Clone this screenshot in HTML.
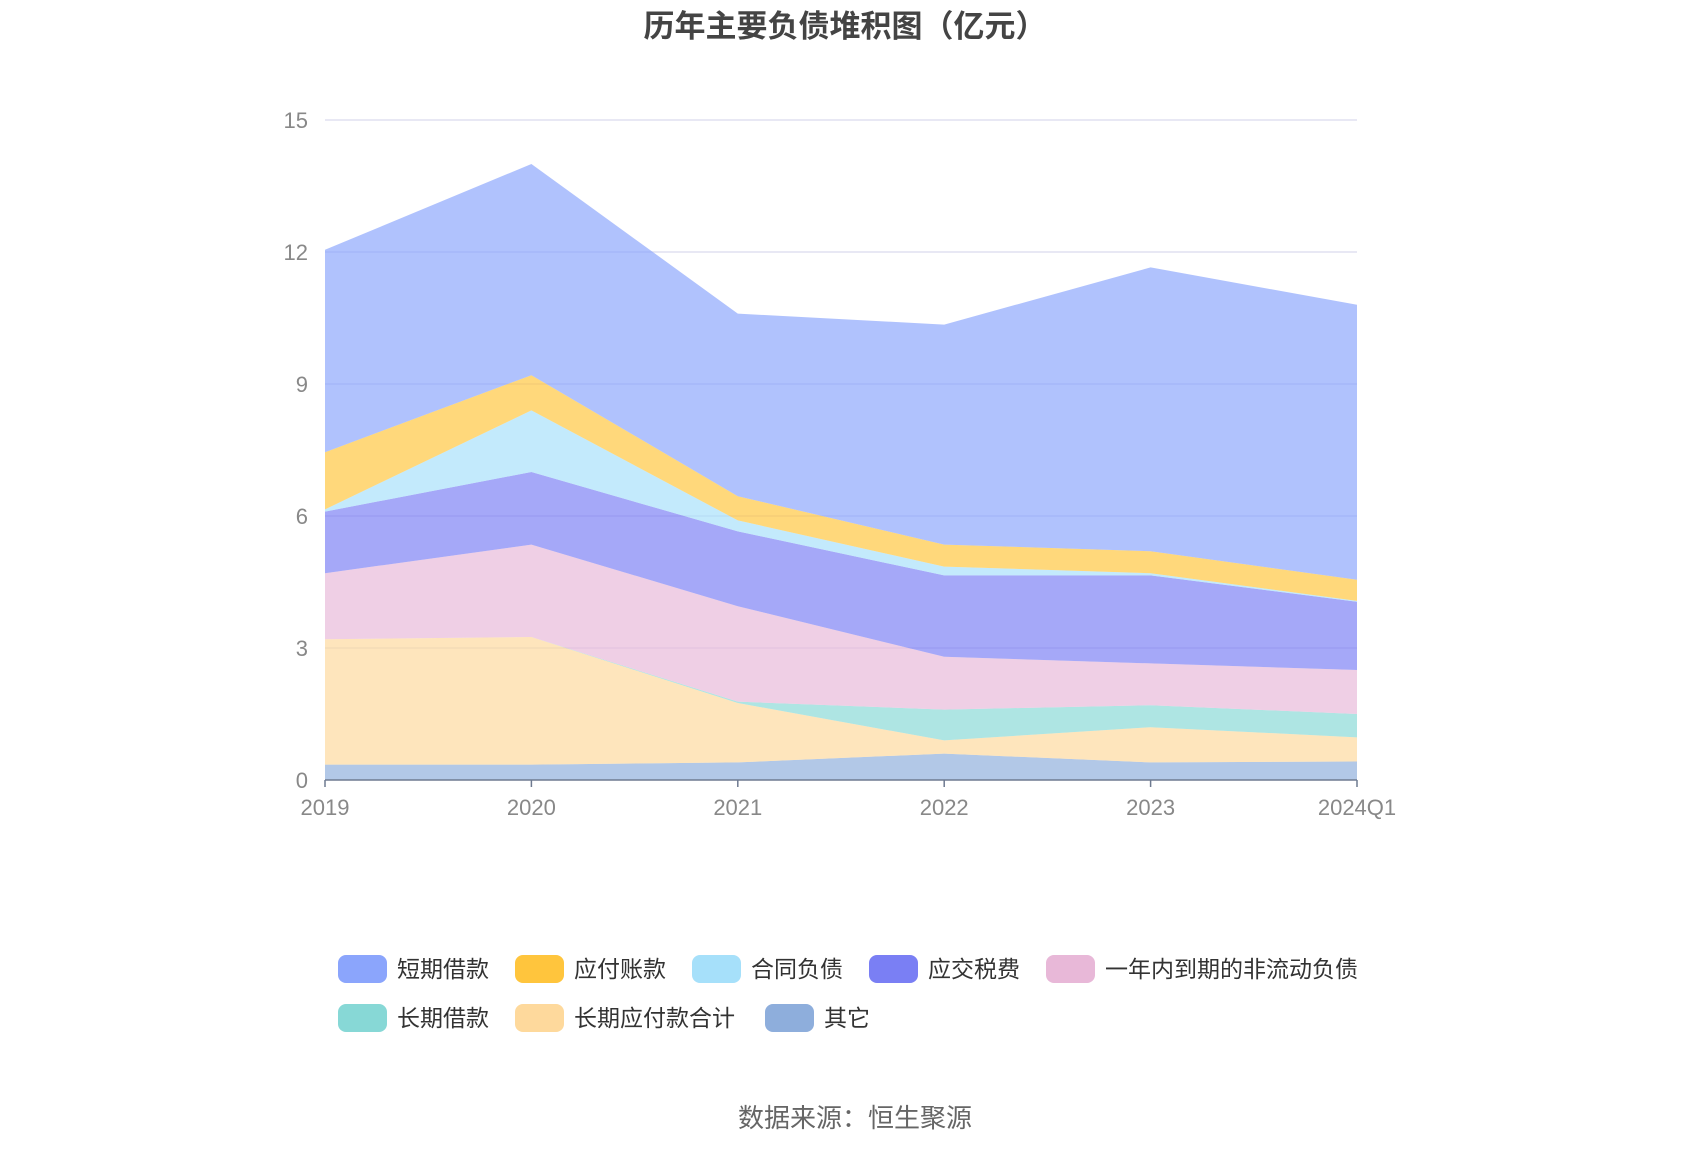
<!DOCTYPE html>
<html><head><meta charset="utf-8"><style>
body{margin:0;background:#fff;width:1700px;height:1150px;overflow:hidden}
svg text{font-family:"Liberation Sans","Noto Sans CJK SC",sans-serif}
</style></head><body>
<svg id="chart" width="1700" height="1150" xmlns="http://www.w3.org/2000/svg">
<text x="845" y="37" text-anchor="middle" font-size="31" font-weight="bold" fill="#444">历年主要负债堆积图（亿元）</text>
<g id="grid"></g><g id="areas"></g><g id="axis"></g><g id="legend"></g>
<text x="855" y="1127" text-anchor="middle" font-size="26" fill="#666">数据来源：恒生聚源</text>
</svg>
<script>
const categories=["2019","2020","2021","2022","2023","2024Q1"];
const seriesNames=["其它","长期应付款合计","长期借款","一年内到期的非流动负债","应交税费","合同负债","应付账款","短期借款"];
const s_other=[0.35,0.35,0.4,0.6,0.4,0.42];
const s_ltPayable=[2.85,2.9,1.35,0.3,0.8,0.55];
const s_ltLoan=[0,0,0.03,0.7,0.5,0.53];
const s_currentNonCur=[1.5,2.1,2.17,1.2,0.95,1.0];
const s_tax=[1.4,1.65,1.7,1.85,2.0,1.55];
const s_contract=[0.05,1.4,0.25,0.2,0.05,0.02];
const s_payable=[1.3,0.8,0.55,0.5,0.5,0.48];
const s_shortLoan=[4.6,4.8,4.15,5.0,6.45,6.25];
const yTicks=[0,3,6,9,12,15];
const series=[s_other,s_ltPayable,s_ltLoan,s_currentNonCur,s_tax,s_contract,s_payable,s_shortLoan];
const fills=["#8eaedc","#fed99c","#87d8d6","#e8b8d8","#7a7ff4","#a6e0fa","#ffc53d","#8ba5fc"];
const X0=325,X1=1357,Y0=780,Y1=120,YMAX=15;
const x=i=>X0+(X1-X0)*i/(categories.length-1);
const y=v=>Y0-(Y0-Y1)*v/YMAX;
const NS="http://www.w3.org/2000/svg";
function mk(t,a,p){const e=document.createElementNS(NS,t);for(const k in a)e.setAttribute(k,a[k]);p.appendChild(e);return e;}
const grid=document.getElementById('grid'),areas=document.getElementById('areas'),axis=document.getElementById('axis'),legend=document.getElementById('legend');
yTicks.forEach(t=>{
  if(t>0){const l=mk('line',{x1:X0,x2:X1,y1:y(t),y2:y(t),stroke:'#e0e0f0','stroke-width':1.5},grid);
  
  }
  const tx=mk('text',{x:308,y:y(t)+8,'text-anchor':'end','font-size':22,fill:'#888'},grid);tx.textContent=t;
  
  
});
let base=categories.map(()=>0);
series.forEach((s,k)=>{
  const top=base.map((b,i)=>b+s[i]);
  let d='M'+top.map((v,i)=>x(i)+','+y(v)).join(' L');
  for(let i=categories.length-1;i>=0;i--)d+=' L'+x(i)+','+y(base[i]);
  const p=mk('path',{d:d+'Z',fill:fills[k],'fill-opacity':0.68},areas);
  
  
  base=top;
});
const ax=mk('line',{x1:X0,x2:X1,y1:Y0,y2:Y0,stroke:'#6e7a90','stroke-width':1.5},axis);


categories.forEach((c,i)=>{
  mk('line',{x1:x(i),x2:x(i),y1:Y0,y2:Y0+7,stroke:'#6e7a90','stroke-width':1.5},axis);
  const t=mk('text',{x:x(i),y:Y0+35,'text-anchor':'middle','font-size':22,fill:'#888'},axis);t.textContent=c;
  
  
});
const legOrder=[7,6,5,4,3,2,1,0];
const legPos=[[338,969],[515,969],[692,969],[869,969],[1046,969],[338,1018],[515,1018],[765,1018]];
legOrder.forEach((k,j)=>{
  const g=mk('g',{},legend);
  
  
  const [lx,ly]=legPos[j];
  mk('rect',{x:lx,y:ly-14,width:49,height:28,rx:8,fill:fills[k]},g);
  const t=mk('text',{x:lx+59,y:ly+8,'font-size':23,fill:'#333'},g);t.textContent=seriesNames[k];
});
</script>
</body></html>
